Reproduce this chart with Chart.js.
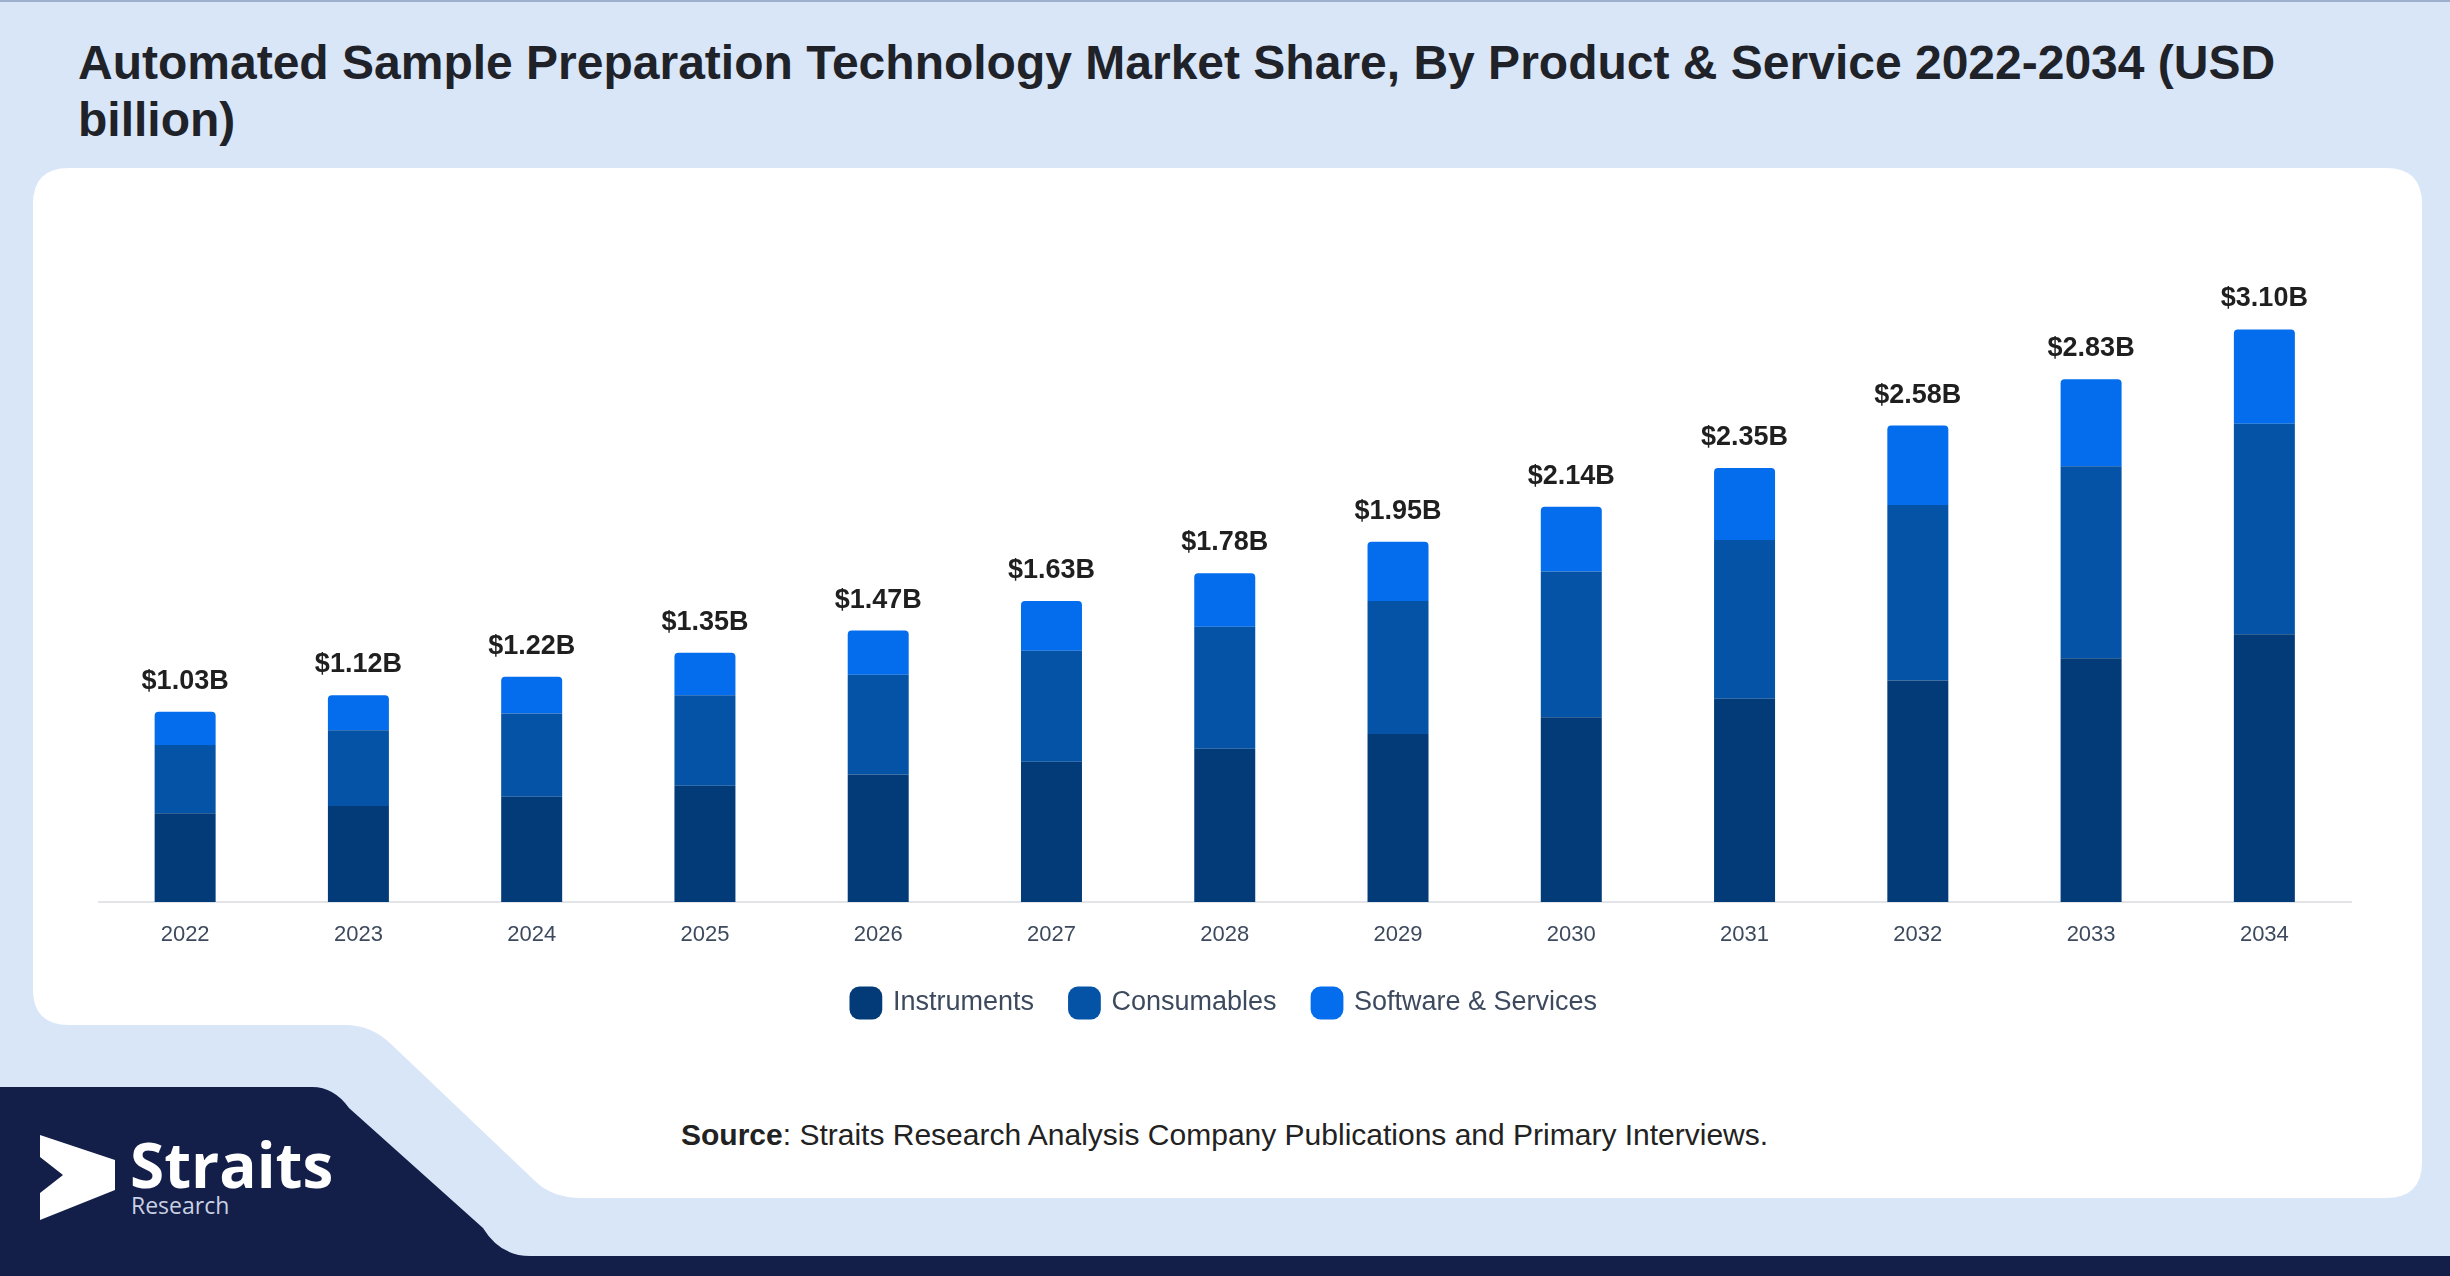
<!DOCTYPE html>
<html lang="en">
<head>
  <meta charset="UTF-8">
  <title>Automated Sample Preparation Technology Market Share</title>
  <script src="https://cdn.jsdelivr.net/npm/chart.js"></script>
  <style>
    html, body {
      margin: 0;
      padding: 0;
    }
    body {
      width: 2450px;
      height: 1276px;
      position: relative;
      overflow: hidden;
      background: #d9e6f8;
      font-family: "Liberation Sans", Arial, sans-serif;
    }
    #shapes {
      position: absolute;
      left: 0;
      top: 0;
    }
    h1 {
      position: absolute;
      left: 78px;
      top: 34px;
      margin: 0;
      font-size: 48px;
      line-height: 57px;
      font-weight: bold;
      color: #1f2329;
      white-space: nowrap;
    }
    #chartBox {
      position: absolute;
      left: 33px;
      top: 168px;
      width: 2389px;
      height: 860px;
    }
    .source {
      position: absolute;
      left: 681px;
      top: 1118px;
      font-size: 30px;
      line-height: 34px;
      color: #222;
      white-space: nowrap;
    }
  </style>
</head>
<body>
<svg id="shapes" width="2450" height="1276">
  <rect x="0" y="0" width="2450" height="2" fill="#9fb0cf"/>
  <path d="M 69,168 H 2386 Q 2422,168 2422,204 V 1162 Q 2422,1198 2386,1198 H 582 Q 552,1198 535,1181 L 392,1045 Q 372,1025 345,1025 H 69 Q 33,1025 33,989 V 204 Q 33,168 69,168 Z" fill="#ffffff"/>
  <path d="M 0,1087 H 312 Q 334,1087 349,1108 L 483,1228 Q 500,1256 530,1256 H 2450 V 1276 H 0 Z" fill="#131f48"/>
  <polygon points="40,1135 115,1160 115,1190 40,1220 40,1193 63,1175 40,1157" fill="#ffffff"/>
  <text x="130" y="1188" font-family="'Open Sans', sans-serif" font-weight="bold" font-size="62" fill="#ffffff">Straits</text>
  <text x="131" y="1214" font-family="'Open Sans', sans-serif" font-size="23" fill="#c9d1e2">Research</text>
</svg>

<h1>Automated Sample Preparation Technology Market Share, By Product &amp; Service 2022-2034 (USD<br>billion)</h1>

<div id="chartBox">
  <canvas id="marketChart" width="2389" height="860"></canvas>
</div>

<div class="source"><b>Source</b>: Straits Research Analysis Company Publications and Primary Interviews.</div>

<script>
  const years = ['2022', '2023', '2024', '2025', '2026', '2027', '2028', '2029', '2030', '2031', '2032', '2033', '2034'];
  const instruments = [0.48, 0.52, 0.57, 0.63, 0.69, 0.76, 0.83, 0.91, 1.00, 1.10, 1.20, 1.32, 1.45];
  const consumables = [0.37, 0.41, 0.45, 0.49, 0.54, 0.60, 0.66, 0.72, 0.79, 0.86, 0.95, 1.04, 1.14];
  const software = [0.18, 0.19, 0.20, 0.23, 0.24, 0.27, 0.29, 0.32, 0.35, 0.39, 0.43, 0.47, 0.51];
  const totals = [1.03, 1.12, 1.22, 1.35, 1.47, 1.63, 1.78, 1.95, 2.14, 2.35, 2.58, 2.83, 3.10];

  Chart.defaults.font.family = '"Liberation Sans", Arial, sans-serif';

  // total value written above each stack
  const totalsPlugin = {
    id: 'totals',
    afterDatasetsDraw(chart) {
      const ctx = chart.ctx;
      const meta = chart.getDatasetMeta(2);
      ctx.save();
      ctx.font = 'bold 27px "Liberation Sans", Arial, sans-serif';
      ctx.fillStyle = '#1f1f1f';
      ctx.textAlign = 'center';
      ctx.textBaseline = 'alphabetic';
      meta.data.forEach((bar, i) => {
        ctx.fillText('$' + totals[i].toFixed(2) + 'B', bar.x, bar.y - 23);
      });
      ctx.restore();
    }
  };

  const ctx = document.getElementById('marketChart').getContext('2d');
  const marketChart = new Chart(ctx, {
    type: 'bar',
    data: {
      labels: years,
      datasets: [
        {
          label: 'Instruments',
          data: instruments,
          backgroundColor: '#033b79',
          borderWidth: 0
        },
        {
          label: 'Consumables',
          data: consumables,
          backgroundColor: '#0453a6',
          borderWidth: 0
        },
        {
          label: 'Software & Services',
          data: software,
          backgroundColor: '#036ded',
          borderWidth: 0,
          borderRadius: { topLeft: 4, topRight: 4 }
        }
      ]
    },
    options: {
      responsive: false,
      animation: false,
      categoryPercentage: 1,
      barPercentage: 0.352,
      layout: {
        padding: { left: 65.5, right: 71, top: 87.6, bottom: 1.5 }
      },
      scales: {
        x: {
          stacked: true,
          grid: { display: false },
          border: { display: true, color: '#e2e4e8', width: 2 },
          ticks: {
            color: '#3d4a5e',
            font: { size: 22 },
            padding: 12
          },
          afterFit(scale) {
            scale.height -= 7.9;
          }
        },
        y: {
          stacked: true,
          display: false,
          min: 0,
          max: 3.5
        }
      },
      plugins: {
        legend: {
          position: 'bottom',
          labels: {
            usePointStyle: true,
            pointStyle: 'rectRounded',
            color: '#3d4a5e',
            font: { size: 27 },
            padding: 37
          }
        },
        tooltip: { enabled: false }
      }
    },
    plugins: [totalsPlugin]
  });
</script>
</body>
</html>
